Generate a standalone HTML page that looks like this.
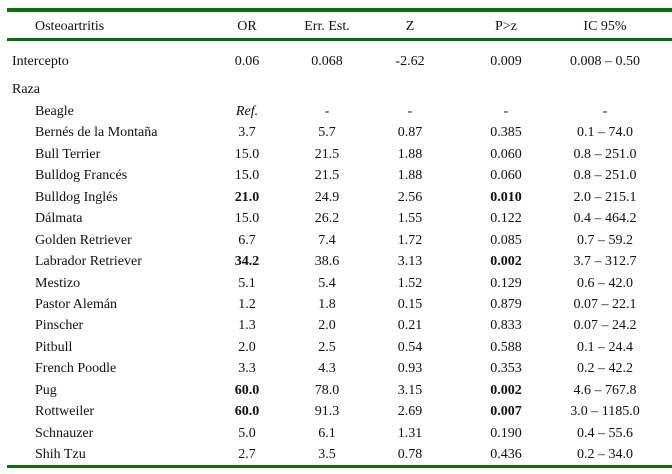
<!DOCTYPE html>
<html><head><meta charset="utf-8"><style>
body{margin:0;width:672px;height:474px;background:#fff;position:relative;font-family:"Liberation Serif",serif;font-size:14px;color:#111;overflow:hidden}
.l{position:absolute;left:7px;right:0;background:#0a700a}
.r{position:absolute;left:0;width:672px;height:20px;line-height:20px}
.r span{position:absolute;white-space:nowrap}
.c1{left:12px}.c1i{left:35px}
.c2,.c3,.c4,.c5,.c6{width:100px;text-align:center}
.c2{left:197px}.c3{left:277px}.c4{left:360px}.c5{left:456px}.c6{left:555px}
b{font-weight:bold}
</style></head><body>
<div class="l" style="top:8px;height:4px"></div>
<div class="l" style="top:38px;height:3px"></div>
<div class="l" style="top:465px;height:3px"></div>
<div id="rows"></div>
<script>
var d=[["Osteoartritis","OR","Err. Est.","Z","P>z","IC 95%",25,1],
["Intercepto","0.06","0.068","-2.62","0.009","0.008 – 0.50",60,0],
["Raza","","","","","",88,0],
["Beagle","<i>Ref.</i>","-","-","-","-",110,1],
["Bernés de la Montaña","3.7","5.7","0.87","0.385","0.1 – 74.0"],
["Bull Terrier","15.0","21.5","1.88","0.060","0.8 – 251.0"],
["Bulldog Francés","15.0","21.5","1.88","0.060","0.8 – 251.0"],
["Bulldog Inglés","<b>21.0</b>","24.9","2.56","<b>0.010</b>","2.0 – 215.1"],
["Dálmata","15.0","26.2","1.55","0.122","0.4 – 464.2"],
["Golden Retriever","6.7","7.4","1.72","0.085","0.7 – 59.2"],
["Labrador Retriever","<b>34.2</b>","38.6","3.13","<b>0.002</b>","3.7 – 312.7"],
["Mestizo","5.1","5.4","1.52","0.129","0.6 – 42.0"],
["Pastor Alemán","1.2","1.8","0.15","0.879","0.07 – 22.1"],
["Pinscher","1.3","2.0","0.21","0.833","0.07 – 24.2"],
["Pitbull","2.0","2.5","0.54","0.588","0.1 – 24.4"],
["French Poodle","3.3","4.3","0.93","0.353","0.2 – 42.2"],
["Pug","<b>60.0</b>","78.0","3.15","<b>0.002</b>","4.6 – 767.8"],
["Rottweiler","<b>60.0</b>","91.3","2.69","<b>0.007</b>","3.0 – 1185.0"],
["Schnauzer","5.0","6.1","1.31","0.190","0.4 – 55.6"],
["Shih Tzu","2.7","3.5","0.78","0.436","0.2 – 34.0"]];
var h="";
d.forEach(function(r,i){var y=r[6]!==undefined?r[6]:110+(i-3)*21.44;var ind=r[7]!==undefined?r[7]:1;
h+='<div class="r" style="top:'+(y-8)+'px"><span class="'+(ind?'c1i':'c1')+'">'+r[0]+'</span>';
for(var k=1;k<6;k++)h+='<span class="c'+(k+1)+'">'+r[k].replace(">z","&gt;z")+'</span>';h+='</div>';});
document.getElementById("rows").innerHTML=h;
</script>
</body></html>
